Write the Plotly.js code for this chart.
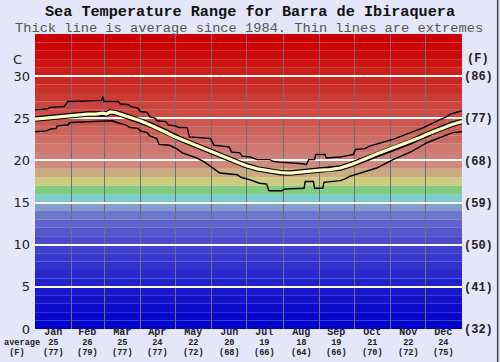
<!DOCTYPE html>
<html>
<head>
<meta charset="utf-8">
<script src="https://cdn.plot.ly/plotly-3.0.1.min.js"></script>
<style>
html,body{margin:0;padding:0;background:#e6e6fa;}
#chart{width:500px;height:362px;}
</style>
</head>
<body>
<div id="chart"></div>
<script>
// ---- data ----
const monthNames = ["Jan","Feb","Mar","Apr","May","Jun","Jul","Aug","Sep","Oct","Nov","Dec"];
const monthDays = [31,28,31,30,31,30,31,31,30,31,30,31];
const monthAvgC = [25,26,25,24,22,20,19,18,19,21,22,24];
const monthAvgF = [77,79,77,77,72,68,66,64,66,70,72,75];

const avgDay = [0,7,13,22,30,38,45,52,58,61,64,68,75,82,90,97,104,111,118,125,132,141,150,158,167,173,180,190,201,210,218,226,235,244,252,261,270,278,285,292,299,306,314,321,328,335,342,349,357,365];
const avgT   = [24.9,25.0,25.1,25.25,25.35,25.4,25.5,25.5,25.6,25.5,25.75,25.7,25.4,25.1,24.7,24.3,23.9,23.4,22.9,22.5,22.1,21.6,21.1,20.6,20.1,19.8,19.4,19.0,18.7,18.55,18.5,18.6,18.8,18.85,18.9,19.1,19.5,19.9,20.35,20.75,21.1,21.45,21.85,22.2,22.65,23.1,23.5,23.9,24.3,24.6];

const maxDay = [0,10,13,25,28,57,58,59,71,73,80,82,88,90,96,98,103,104,112,114,120,123,130,132,150,153,160,166,168,175,177,184,190,201,203,209,229,232,234,239,240,248,249,261,268,272,274,282,286,297,306,321,332,344,352,355,361,365];
const maxT   = [26.0,26.1,26.3,26.4,27.0,27.1,27.6,27.0,27.0,26.7,26.6,26.4,26.2,25.8,25.7,25.2,25.0,24.7,24.6,24.2,24.1,23.9,23.9,22.8,22.6,21.8,21.7,21.6,21.0,20.9,20.5,20.4,20.1,20.1,19.9,19.8,19.6,19.5,20.1,20.1,20.7,20.7,20.3,20.4,20.6,20.7,21.3,21.4,21.7,22.1,22.5,23.3,23.9,24.7,25.2,25.5,25.75,25.9];

const minDay = [0,10,13,18,19,28,30,53,58,66,70,78,81,88,90,96,98,104,106,115,121,126,132,138,145,150,158,173,176,184,192,198,200,211,213,230,231,238,239,246,247,261,265,269,280,292,306,321,335,349,357,365];
const minT   = [23.4,23.5,23.7,23.8,24.1,24.2,24.5,24.6,24.7,24.7,24.5,24.2,23.9,23.8,23.5,23.3,22.9,22.6,21.9,21.8,21.4,20.9,20.6,20.3,19.8,19.3,18.5,18.3,18.0,17.7,17.3,17.2,16.4,16.4,16.6,16.7,17.5,17.5,16.7,16.7,17.4,17.6,17.8,18.1,18.6,19.1,20.1,21.0,22.1,22.9,23.3,23.4];

const yTicksC = [0,5,10,15,20,25,30];
const yTicksF = ["(32)","(41)","(50)","(59)","(68)","(77)","(86)"];

// ---- style ----
const bandColors = [
 "rgb(0,0,204)","rgb(6,6,204)","rgb(12,12,204)","rgb(18,18,204)","rgb(24,24,204)",
 "rgb(32,32,204)","rgb(40,40,204)","rgb(48,48,204)","rgb(56,56,204)","rgb(64,64,204)",
 "rgb(74,74,204)","rgb(86,86,204)","rgb(98,98,204)","rgb(110,118,204)","rgb(128,160,204)",
 "rgb(128,204,204)","rgb(128,204,128)","rgb(204,204,128)","rgb(204,170,128)","rgb(206,140,120)",
 "rgb(206,128,120)","rgb(205,118,110)","rgb(204,108,100)","rgb(204,98,90)","rgb(204,88,80)",
 "rgb(204,78,70)","rgb(204,68,62)","rgb(204,58,52)","rgb(204,48,42)","rgb(204,40,34)",
 "rgb(204,30,26)","rgb(204,20,16)","rgb(204,10,8)","rgb(204,4,2)","rgb(204,0,0)"
];
const mono = "Liberation Mono, Courier New, monospace";

// derived
const bounds = [0];
monthDays.forEach(d => bounds.push(bounds[bounds.length-1] + d));
const mids = monthDays.map((d,i) => bounds[i] + d/2);

const shapes = bandColors.map((c,i) => ({
  type:"rect", xref:"x", yref:"y", x0:0, x1:365, y0:i, y1:i+1,
  fillcolor:c, line:{width:0}, layer:"below"
}));
shapes.push({type:"line", xref:"paper", yref:"paper", x0:1.0835, x1:1.0835, y0:-0.12, y1:1.12, line:{color:"#444", width:1.5}});

const pxToPaperY = py => (329 - py) / 295;
const big = s => '<span style="font-size:10px"><b>' + s + '</b></span>';
const small = s => '<span style="font-size:8.6px"><b>' + s + '</b></span>';
const annotations = [
  {text:"Thick line is average since 1984. Thin lines are extremes", xref:"paper", yref:"paper",
   x:0.5, y:pxToPaperY(28.2), xanchor:"center", yanchor:"middle", showarrow:false, borderpad:0,
   font:{family:mono, size:13.7, color:"#555"}},
  {text:"C", xref:"paper", yref:"y", x:(17-35)/427, y:32, xanchor:"center", yanchor:"middle", showarrow:false,
   font:{family:"DejaVu Sans", size:13, color:"#222"}},
  {text:"<b>(F)</b>", xref:"paper", yref:"y", x:(478-35)/427, y:32, xanchor:"center", yanchor:"middle", showarrow:false,
   font:{family:mono, size:12, color:"#222"}},
  {text:small("average") + "<br>" + small("(F)\u00a0\u00a0"), xref:"paper", yref:"paper", x:(22-35)/427, y:pxToPaperY(347.5),
   xanchor:"center", yanchor:"middle", showarrow:false, borderpad:0,
   font:{family:mono, size:7.7, color:"#222"}}
];
mids.forEach((m,i) => {
  annotations.push({text: big(monthNames[i]) + "<br>" + small(monthAvgC[i]) + "<br>" + small("(" + monthAvgF[i] + ")"),
    xref:"x", yref:"paper", x:m, y:pxToPaperY(342.6), xanchor:"center", yanchor:"middle", showarrow:false, borderpad:0,
    font:{family:mono, size:7.7, color:"#222"}});
});

const traces = [
  {x:maxDay, y:maxT, mode:"lines", line:{color:"#000", width:1.4}, hoverinfo:"skip"},
  {x:minDay, y:minT, mode:"lines", line:{color:"#000", width:1.4}, hoverinfo:"skip"},
  {x:avgDay, y:avgT, mode:"lines", line:{color:"#000", width:5.5}, hoverinfo:"skip"},
  {x:avgDay, y:avgT, mode:"lines", line:{color:"rgb(255,255,192)", width:3.2}, hoverinfo:"skip"},
  {x:[0,365], y:[0,0], yaxis:"y2", mode:"lines", line:{width:0}, showlegend:false, hoverinfo:"skip"}
];

const layout = {
  width:500, height:362,
  margin:{l:35, r:38, t:34, b:33, pad:0},
  paper_bgcolor:"#e6e6fa", plot_bgcolor:"#e6e6fa",
  showlegend:false,
  title:{text:"<b>Sea Temperature Range for Barra de Ibiraquera</b>", x:0.5, xanchor:"center",
         y:1-10.8/362, yanchor:"middle", font:{family:mono, size:15.2, color:"#111"}},
  xaxis:{range:[0,365], showgrid:false, zeroline:false, showticklabels:false, ticks:"",
         minor:{tickmode:"array", tickvals:bounds.slice(1,-1), showgrid:true, gridcolor:"rgb(112,112,112)", gridwidth:1, ticks:""},
         fixedrange:true},
  yaxis:{range:[0,35], tickmode:"array", tickvals:yTicksC, ticktext:yTicksC.map(String),
         showgrid:true, gridcolor:"rgb(255,250,250)", gridwidth:2, zeroline:false, ticks:"",
         ticklabelstandoff:4,
         tickfont:{family:"DejaVu Sans", size:13, color:"#222"}, fixedrange:true},
  yaxis2:{range:[0,35], overlaying:"y", side:"right", tickmode:"array", tickvals:yTicksC, ticktext:yTicksF,
          showgrid:false, zeroline:false, ticks:"", ticklabelstandoff:1,
          tickfont:{family:mono, size:12, color:"#222", weight:"bold"}, fixedrange:true},
  shapes:shapes,
  annotations:annotations
};

Plotly.newPlot("chart", traces, layout, {staticPlot:true, displayModeBar:false});
</script>
</body>
</html>
